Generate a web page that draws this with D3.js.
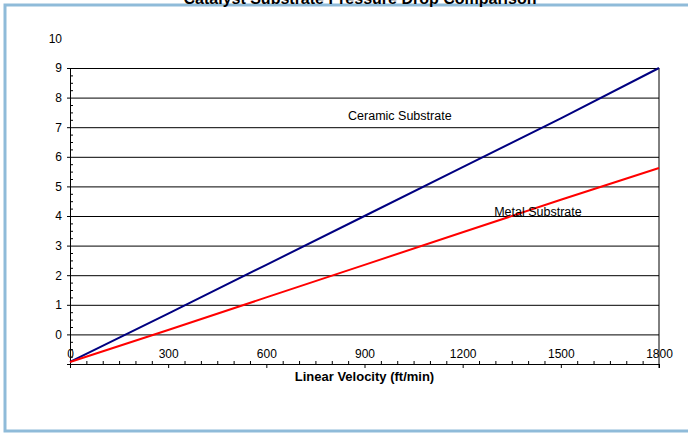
<!DOCTYPE html>
<html>
<head>
<meta charset="utf-8">
<script src="https://cdn.jsdelivr.net/npm/d3@7"></script>
<style>
  body { margin: 0; background: #fff; }
  text { font-family: "Liberation Sans", Arial, sans-serif; }
</style>
</head>
<body>
<div id="chart"></div>
<script>
// readings, every 300 ft/min
var velocity = [0, 300, 600, 900, 1200, 1500, 1800]
var ceramic = [0.07, 1.7, 3.35, 5.0, 6.65, 8.3, 10.0]
var metal = [0.07, 1.15, 2.25, 3.35, 4.45, 5.55, 6.62]
var xTicks = [0, 300, 600, 900, 1200, 1500, 1800]
var yTicks = [0, 1, 2, 3, 4, 5, 6, 7, 8, 9, 10]

var margin = {top: 68, right: 29, bottom: 70, left: 70},
    width = 688 - margin.left - margin.right,
    height = 434 - margin.top - margin.bottom;

var x = d3.scaleLinear().domain([0, 1800]).range([0, width])
var y = d3.scaleLinear().domain([0, 10]).range([height, 0])
var step = y(0) - y(1)

var root = d3.select("#chart")
    .append("svg")
        .attr("width", 688)
        .attr("height", 434)

// outer frame
root.append("rect")
    .attr("x", 5).attr("y", 5)
    .attr("width", 700).attr("height", 426)
    .attr("fill", "none")
    .attr("stroke", "#8fbbd9")
    .attr("stroke-width", 3)

root.append("text")
    .attr("x", 360).attr("y", 4)
    .attr("text-anchor", "middle")
    .attr("font-size", 16)
    .attr("font-weight", "bold")
    .text("Catalyst Substrate Pressure Drop Comparison")

var svg = root.append("g")
    .attr("transform", "translate(" + margin.left + "," + margin.top + ")")

// gridlines
svg.append("g")
    .call(d3.axisLeft(y).tickValues(yTicks).tickSize(-width).tickFormat(""))
    .call(g => g.select(".domain").remove())
    .selectAll("line").attr("stroke", "#000")

// minor ticks
svg.append("g")
    .call(d3.axisLeft(y)
        .tickValues(d3.range(0, 10, 0.25).filter(v => v % 1 !== 0))
        .tickSize(-3).tickFormat(""))
    .call(g => g.select(".domain").remove())

svg.append("g")
    .attr("transform", "translate(0," + height + ")")
    .call(d3.axisBottom(x)
        .tickValues(d3.range(0, 1800, 50).filter(v => v % 300 !== 0))
        .tickSize(-3).tickFormat(""))
    .call(g => g.select(".domain").remove())

// y axis, labels sit one step up
svg.append("g")
    .call(d3.axisLeft(y).tickValues(yTicks).tickSize(3).tickPadding(5))
    .call(g => g.selectAll("text")
        .attr("transform", "translate(0," + (-step) + ")")
        .attr("font-size", 12)
        .attr("font-family", "Liberation Sans, Arial, sans-serif")
        .attr("fill", "#000"))

// x axis, labels sit on top of the axis line
svg.append("g")
    .attr("transform", "translate(0," + height + ")")
    .call(d3.axisBottom(x).tickValues(xTicks).tickSize(4).tickFormat(d3.format("d")))
    .call(g => g.selectAll("text")
        .attr("y", -15)
        .attr("font-size", 12)
        .attr("font-family", "Liberation Sans, Arial, sans-serif")
        .attr("fill", "#000"))

// right border
svg.append("line")
    .attr("x1", width).attr("x2", width)
    .attr("y1", 0).attr("y2", height + 4)
    .attr("stroke", "#000")

var line = d3.line()
    .x((d, i) => x(velocity[i]))
    .y(d => y(d))

svg.append("path")
    .datum(ceramic)
    .attr("fill", "none")
    .attr("stroke", "#000080")
    .attr("stroke-width", 2)
    .attr("d", line)

svg.append("path")
    .datum(metal)
    .attr("fill", "none")
    .attr("stroke", "#ff0000")
    .attr("stroke-width", 2)
    .attr("d", line)

svg.append("text")
    .attr("x", x(1008)).attr("y", y(8.38) + 4)
    .attr("text-anchor", "middle")
    .attr("font-size", 12.5)
    .text("Ceramic Substrate")

svg.append("text")
    .attr("x", x(1430)).attr("y", y(5.13) + 4)
    .attr("text-anchor", "middle")
    .attr("font-size", 12.5)
    .text("Metal Substrate")

svg.append("text")
    .attr("x", width / 2).attr("y", height + 17)
    .attr("text-anchor", "middle")
    .attr("font-size", 13)
    .attr("font-weight", "bold")
    .text("Linear Velocity (ft/min)")
</script>
</body>
</html>
